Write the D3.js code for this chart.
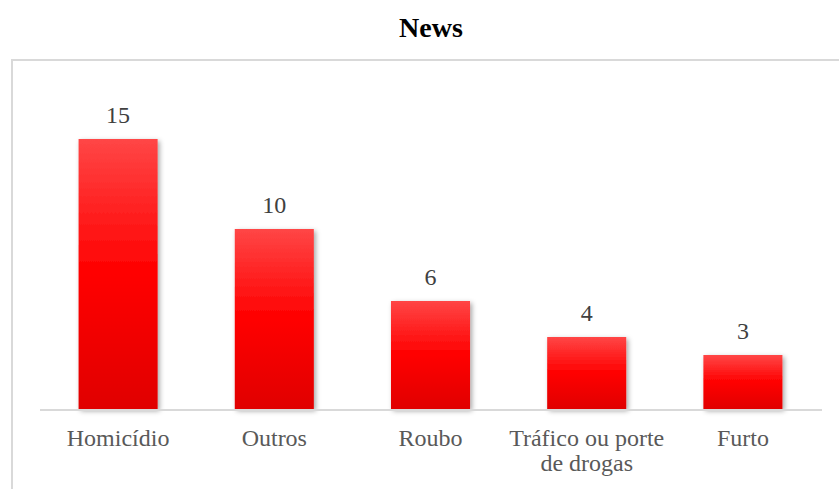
<!DOCTYPE html>
<html>
<head>
<meta charset="utf-8">
<script src="https://cdn.jsdelivr.net/npm/d3@7"></script>
<style>
  body { margin: 0; background: #fff; }
  svg { display: block; }
  svg text { font-family: "Liberation Serif", "Times New Roman", serif; }
</style>
</head>
<body>
<div id="chart"></div>
<script>
/* Data */
const chartTitle = "News";
const categories = ["Homicídio", "Outros", "Roubo", "Tráfico ou porte de drogas", "Furto"];
const categoryLines = [["Homicídio"], ["Outros"], ["Roubo"], ["Tráfico ou porte", "de drogas"], ["Furto"]];
const values = [15, 10, 6, 4, 3];

/* Dimensions */
const width = 839, height = 489;
const plot = { left: 40, right: 821, top: 139, bottom: 409 };

const svg = d3.select("#chart").append("svg")
  .attr("width", width)
  .attr("height", height);

// Gradient + shadow for bars
const defs = svg.append("defs");
const grad = defs.append("linearGradient")
  .attr("id", "barGrad")
  .attr("x1", 0).attr("y1", 0).attr("x2", 0).attr("y2", 1);
grad.append("stop").attr("offset", "0%").attr("stop-color", "#ff4646");
grad.append("stop").attr("offset", "50%").attr("stop-color", "#ff0000");
grad.append("stop").attr("offset", "100%").attr("stop-color", "#e00000");

const shadow = defs.append("filter")
  .attr("id", "shadow")
  .attr("x", "-20%").attr("y", "-20%")
  .attr("width", "140%").attr("height", "140%");
shadow.append("feDropShadow")
  .attr("dx", 2).attr("dy", 2)
  .attr("stdDeviation", 2.5)
  .attr("flood-color", "#000")
  .attr("flood-opacity", 0.35);

// Frame (chart area border)
svg.append("path")
  .attr("d", "M12," + height + " V60 H" + width)
  .attr("fill", "none")
  .attr("stroke", "#d9d9d9")
  .attr("stroke-width", 2);

// Title
svg.append("text")
  .attr("x", 431)
  .attr("y", 37)
  .attr("text-anchor", "middle")
  .attr("font-weight", "bold")
  .attr("font-size", 28)
  .attr("fill", "#000")
  .text(chartTitle);

/* Scales */
const x = d3.scaleBand()
  .domain(categories)
  .range([plot.left, plot.right])
  .paddingInner(0.494)
  .paddingOuter(0.247);

const y = d3.scaleLinear()
  .domain([0, 15])
  .range([plot.bottom, plot.top]);

/* Bars */
svg.append("g")
  .selectAll("rect")
  .data(values)
  .join("rect")
    .attr("x", (d, i) => x(categories[i]))
    .attr("y", d => y(d))
    .attr("width", x.bandwidth())
    .attr("height", d => y(0) - y(d))
    .attr("fill", "url(#barGrad)")
    .attr("filter", "url(#shadow)");

// Axis line
svg.append("line")
  .attr("x1", plot.left).attr("x2", plot.right + 1)
  .attr("y1", plot.bottom + 1).attr("y2", plot.bottom + 1)
  .attr("stroke", "#d9d9d9")
  .attr("stroke-width", 2);

/* Value labels */
svg.append("g")
  .selectAll("text")
  .data(values)
  .join("text")
    .attr("x", (d, i) => x(categories[i]) + x.bandwidth() / 2)
    .attr("y", d => y(d) - 16)
    .attr("text-anchor", "middle")
    .attr("font-size", 24)
    .attr("fill", "#404040")
    .text(d => d);

/* Category labels */
const labels = svg.append("g")
  .selectAll("text")
  .data(categories)
  .join("text")
    .attr("text-anchor", "middle")
    .attr("font-size", 24)
    .attr("fill", "#595959");

labels.each(function(d, i) {
  const lines = categoryLines[i];
  d3.select(this).selectAll("tspan")
    .data(lines)
    .join("tspan")
      .attr("x", x(d) + x.bandwidth() / 2)
      .attr("y", (l, j) => 446 + j * 25)
      .text(l => l);
});
</script>
</body>
</html>
